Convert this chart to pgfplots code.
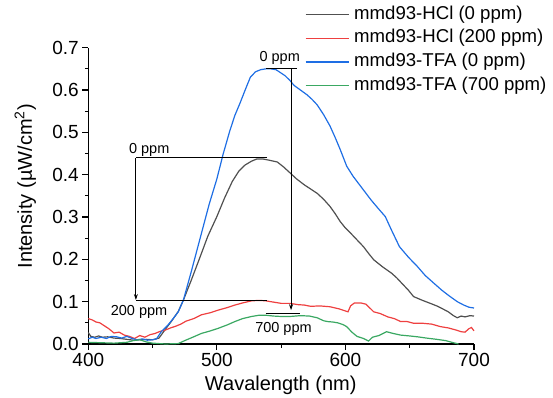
\documentclass[border=0pt]{standalone}
\usepackage{pgfplots}
\pgfplotsset{compat=1.18}
\usepackage{fontspec}
\setmainfont{Liberation Sans}
\usetikzlibrary{arrows.meta}
\definecolor{cgray}{RGB}{80,80,80}
\definecolor{cred}{RGB}{238,64,64}
\definecolor{cblue}{RGB}{30,110,228}
\definecolor{cgreen}{RGB}{58,168,98}
\begin{document}
\begin{tikzpicture}
\begin{axis}[
  scale only axis, width=385.7bp, height=296.3bp,
  xmin=400, xmax=700, ymin=0, ymax=0.7,
  axis x line*=bottom, axis y line*=left,
  axis line style={line width=1.2bp},
  xtick={400,500,600,700}, minor x tick num=1,
  ytick={0,0.1,0.2,0.3,0.4,0.5,0.6,0.7}, minor y tick num=1,
  tick align=outside,
  major tick length=6bp, minor tick length=3.5bp,
  every tick/.style={line width=1.1bp, black},
  /pgf/number format/assume math mode=true,
  yticklabel style={/pgf/number format/fixed, /pgf/number format/precision=1, /pgf/number format/fixed zerofill},
  scaled y ticks=false,
  tick label style={font=\fontsize{19bp}{21bp}\selectfont},
  xlabel={Wavalength (nm)}, ylabel={Intensity (\textmu W/cm\textsuperscript{2})},
  label style={font=\fontsize{20bp}{22bp}\selectfont},
  xlabel style={at={(axis description cs:0.499,-0.138)}, anchor=center},
  ylabel style={at={(axis description cs:-0.163,0.532)}, anchor=center},
  legend image code/.code={\draw[#1] (0bp,0bp) -- (43bp,0bp);},
  legend style={draw=none, fill=none, inner sep=0pt, outer sep=0pt,
    at={(axis description cs:0.5618,1.140)}, anchor=north west,
    font=\fontsize{18.6bp}{20bp}\selectfont,
    column sep=5bp, row sep=6.6bp,
    nodes={inner sep=0pt, text height=13bp, text depth=4bp}},
  legend cell align=left,
  clip=false,
]
\addplot[cgray, line width=1.2bp] coordinates {
(400,0.027) (402,0.018) (405,0.016) (408,0.019) (411,0.016) (415,0.017) (420,0.014) (425,0.013) (430,0.011) (435,0.009) (440,0.010) (445,0.011) (450,0.010) (455,0.014) (460,0.035) (465,0.055) (470,0.077) (474,0.104) (480,0.150) (487,0.206) (493,0.255) (500,0.301) (506,0.345) (512,0.384) (517,0.408) (522,0.423) (527,0.432) (531,0.437) (536,0.437) (541,0.434) (547,0.430) (552,0.418) (557,0.404) (562,0.390) (568,0.376) (573,0.366) (578,0.356) (583,0.342) (588,0.325) (592,0.308) (596,0.289) (600,0.274) (604,0.262) (609,0.246) (614,0.230) (618,0.214) (622,0.199) (629,0.182) (636,0.167) (640,0.156) (644,0.143) (649,0.127) (653,0.112) (660,0.103) (666,0.096) (671,0.090) (675,0.084) (680,0.076) (684,0.067) (687,0.062) (690,0.066) (693,0.064) (697,0.067) (700,0.066)
};
\addlegendentry{mmd93-HCl (0 ppm)}
\addplot[cred, line width=1.2bp] coordinates {
(400,0.060) (403,0.057) (406,0.052) (409,0.050) (413,0.042) (416,0.036) (420,0.026) (424,0.028) (428,0.021) (432,0.018) (436,0.013) (440,0.020) (444,0.016) (448,0.022) (452,0.025) (456,0.030) (460,0.033) (464,0.038) (468,0.042) (472,0.047) (476,0.054) (482,0.060) (488,0.069) (495,0.074) (501,0.080) (508,0.086) (514,0.092) (520,0.097) (527,0.102) (533,0.103) (538,0.102) (544,0.099) (550,0.096) (557,0.096) (563,0.093) (568,0.092) (573,0.089) (580,0.090) (588,0.088) (595,0.083) (600,0.078) (602,0.076) (604,0.090) (607,0.097) (612,0.097) (616,0.094) (619,0.085) (622,0.076) (627,0.072) (633,0.064) (638,0.060) (643,0.053) (648,0.053) (653,0.049) (660,0.049) (667,0.047) (674,0.041) (680,0.038) (686,0.033) (690,0.029) (693,0.028) (696,0.036) (698,0.039) (700,0.031)
};
\addlegendentry{mmd93-HCl (200 ppm)}
\addplot[cblue, line width=1.2bp] coordinates {
(400,0.012) (403,0.016) (406,0.013) (410,0.016) (414,0.013) (418,0.018) (422,0.017) (426,0.014) (430,0.018) (434,0.013) (438,0.010) (442,0.012) (446,0.009) (450,0.010) (453,0.012) (457,0.030) (462,0.045) (466,0.060) (470,0.076) (474,0.104) (480,0.170) (487,0.250) (494,0.330) (500,0.390) (505,0.450) (510,0.503) (514,0.540) (518,0.569) (522,0.600) (526,0.630) (530,0.643) (534,0.648) (538,0.650) (542,0.650) (546,0.648) (550,0.640) (553,0.634) (557,0.622) (560,0.611) (565,0.600) (570,0.589) (574,0.578) (578,0.565) (583,0.542) (588,0.515) (592,0.488) (596,0.459) (601,0.420) (606,0.396) (610,0.380) (615,0.360) (620,0.340) (625,0.322) (631,0.301) (636,0.268) (642,0.230) (649,0.205) (656,0.183) (662,0.162) (669,0.143) (675,0.127) (681,0.113) (687,0.100) (692,0.092) (696,0.087) (700,0.085)
};
\addlegendentry{mmd93-TFA (0 ppm)}
\addplot[cgreen, line width=1.2bp] coordinates {
(400,0.004) (410,0.003) (420,0.002) (430,0.004) (435,0.008) (440,0.010) (445,0.005) (450,0.002) (455,0.001) (460,0.0) (470,0.001) (475,0.008) (482,0.017) (488,0.025) (495,0.031) (501,0.037) (508,0.045) (514,0.053) (520,0.060) (527,0.065) (533,0.068) (538,0.068) (544,0.066) (550,0.065) (557,0.065) (565,0.067) (572,0.066) (578,0.062) (583,0.055) (586,0.053) (590,0.052) (594,0.050) (598,0.046) (601,0.041) (605,0.028) (609,0.018) (614,0.013) (618,0.007) (621,0.016) (626,0.020) (632,0.029) (637,0.025) (643,0.021) (650,0.019) (656,0.017) (663,0.014) (671,0.011) (678,0.008) (684,0.003) (688,0.0)
};
\addlegendentry{mmd93-TFA (700 ppm)}
% annotations
\addplot[black, line width=0.9bp, forget plot] coordinates {(437,0.104) (539,0.104)};
\addplot[black, line width=0.9bp, forget plot] coordinates {(539,0.44) (437,0.44)};
\addplot[black, line width=0.9bp, -{Stealth[length=6bp,width=4bp]}, forget plot] coordinates {(437,0.44) (437,0.104)};
\addplot[black, line width=0.9bp, forget plot] coordinates {(538,0.65) (562.5,0.65)};
\addplot[black, line width=0.9bp, forget plot] coordinates {(538,0.0725) (564.5,0.0725)};
\addplot[black, line width=0.9bp, -{Stealth[length=6bp,width=4bp]}, forget plot] coordinates {(557.7,0.65) (557.7,0.08)};
\node[font=\fontsize{14.5bp}{16bp}\selectfont] at (axis cs:447.4,0.458) {0 ppm};
\node[font=\fontsize{14.5bp}{16bp}\selectfont] at (axis cs:439.5,0.076) {200 ppm};
\node[font=\fontsize{14.5bp}{16bp}\selectfont] at (axis cs:548.9,0.675) {0 ppm};
\node[font=\fontsize{14.5bp}{16bp}\selectfont] at (axis cs:551.8,0.036) {700 ppm};
\end{axis}
\pgfresetboundingbox
\path (-88.3bp,-54bp) rectangle (464.7bp,344bp);
\end{tikzpicture}
\end{document}
